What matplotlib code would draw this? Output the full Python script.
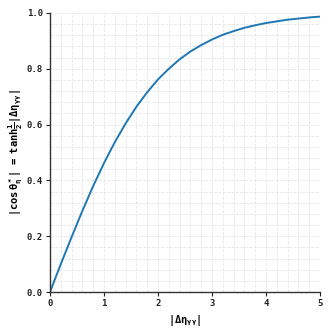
import matplotlib
matplotlib.use("Agg")
import matplotlib.pyplot as plt
from matplotlib.ticker import MultipleLocator

# |Δη_γγ| sample positions and |cos θ*_η| values
delta_eta = [0.0, 0.2, 0.4, 0.6, 0.8, 1.0, 1.2, 1.4, 1.6, 1.8, 2.0, 2.2, 2.4,
             2.6, 2.8, 3.0, 3.2, 3.4, 3.6, 3.8, 4.0, 4.2, 4.4, 4.6, 4.8, 5.0]
cos_theta = [0.000, 0.100, 0.197, 0.291, 0.380, 0.462, 0.537, 0.604, 0.664,
             0.716, 0.762, 0.800, 0.834, 0.862, 0.885, 0.905, 0.922, 0.935,
             0.947, 0.956, 0.964, 0.970, 0.976, 0.980, 0.984, 0.987]
x_ticks = [0, 1, 2, 3, 4, 5]
y_ticks = [0.0, 0.2, 0.4, 0.6, 0.8, 1.0]

plt.rcParams['font.family'] = ['DejaVu Sans Mono', 'DejaVu Sans']
plt.rcParams['font.weight'] = 'bold'
plt.rcParams['mathtext.fontset'] = 'custom'
plt.rcParams['mathtext.rm'] = 'DejaVu Sans Mono:bold'
plt.rcParams['mathtext.it'] = 'DejaVu Sans Mono:bold'
plt.rcParams['mathtext.bf'] = 'DejaVu Sans Mono:bold'
plt.rcParams['mathtext.sf'] = 'DejaVu Sans Mono:bold'

fig = plt.figure(figsize=(3.32, 3.32), dpi=100)
ax = fig.add_axes([50/332, 40/332, 270/332, 279/332])

ax.plot(delta_eta, cos_theta, color='#1f77b4', lw=1.4)

ax.set_xlim(0, 5)
ax.set_ylim(0, 1)
ax.set_xticks(x_ticks)
ax.set_yticks(y_ticks)
ax.set_xticklabels([str(v) for v in x_ticks])
ax.set_yticklabels([f"{v:.1f}" for v in y_ticks])
ax.xaxis.set_minor_locator(MultipleLocator(0.2))
ax.yaxis.set_minor_locator(MultipleLocator(0.04))
ax.grid(which='both', color='#e6e6e6', ls='--', lw=0.6)
ax.set_axisbelow(True)
ax.tick_params(which='minor', length=0)
ax.tick_params(which='major', length=3, width=0.8, labelsize=6.5, pad=2, colors='#222222')
for s in ['top', 'right']:
    ax.spines[s].set_visible(False)
for s in ['left', 'bottom']:
    ax.spines[s].set_color('#333333')
    ax.spines[s].set_linewidth(1.0)

ax.set_xlabel(r'$|\Delta\eta_{\gamma\gamma}|$', fontsize=7.5, labelpad=4)
ax.set_ylabel(r'$|\mathrm{cos}\,\theta^*_\eta|\ \ =\ \ \mathrm{tanh}\frac{1}{2}|\Delta\eta_{\gamma\gamma}|$',
              fontsize=7.5, labelpad=4)
ax.yaxis.set_label_coords(-0.093, 0.5)

fig.savefig('out.png', dpi=100)
